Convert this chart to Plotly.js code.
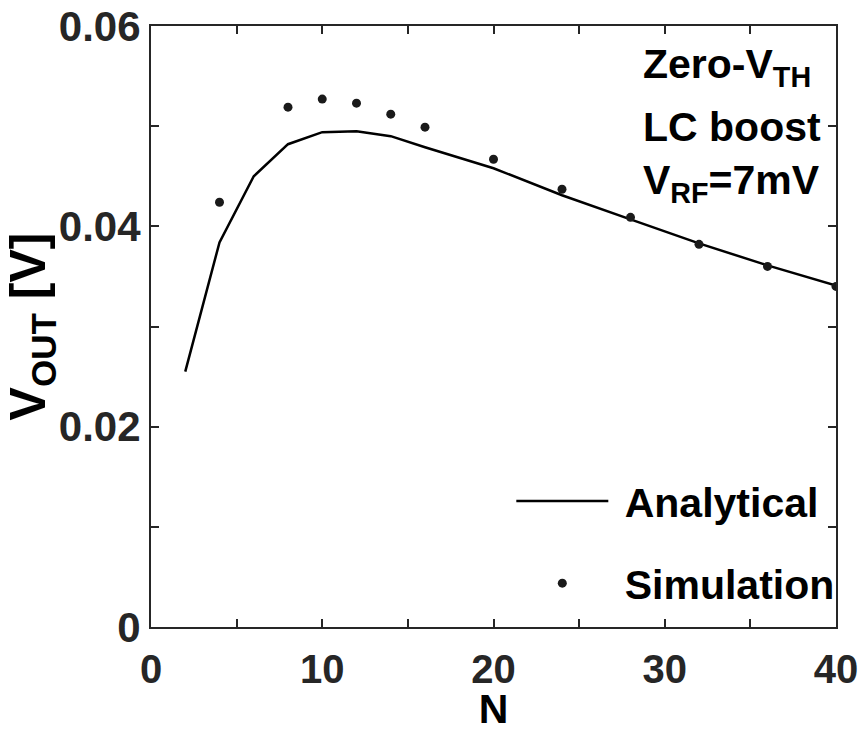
<!DOCTYPE html>
<html>
<head>
<meta charset="utf-8">
<script src="https://cdn.plot.ly/plotly-3.0.1.min.js"></script>
<style>html,body{margin:0;padding:0;background:#fff;}#chart{width:866px;height:732px;}</style>
</head>
<body>
<div id="chart"></div>
<script>
// Analytical curve
const analyticalN = [2, 4, 6, 8, 10, 12, 14, 16, 20, 24, 28, 32, 36, 40];
const analyticalV = [0.0255, 0.0384, 0.0450, 0.0482, 0.0494, 0.0495, 0.0490, 0.0479, 0.0458, 0.0431, 0.0407, 0.0383, 0.0361, 0.0341];
// Simulation points
const simulationN = [4, 8, 10, 12, 14, 16, 20, 24, 28, 32, 36, 40];
const simulationV = [0.0424, 0.0519, 0.0527, 0.0523, 0.0512, 0.0499, 0.0467, 0.0437, 0.0409, 0.0382, 0.0360, 0.0340];
// Axis ticks
const xTickVals = [0, 10, 20, 30, 40];
const xTickText = ['0', '10', '20', '30', '40'];
const yTickVals = [0, 0.02, 0.04, 0.06];
const yTickText = ['0', '0.02', '0.04', '0.06'];
const annotationLines = ['Zero-V<sub>TH</sub>', 'LC boost', 'V<sub>RF</sub>=7mV'];
const seriesNames = ['\u00A0Analytical', '\u00A0Simulation'];

const boldFont = 'Liberation Sans, Arial, sans-serif';
const axisColor = '#262626';

const traces = [
  {
    x: analyticalN, y: analyticalV, type: 'scatter', mode: 'lines',
    name: seriesNames[0], legendgroup: 'a',
    line: {color: '#000', width: 2.5}
  },
  {
    x: simulationN, y: simulationV, type: 'scatter', mode: 'markers',
    name: seriesNames[1], legendgroup: 'b',
    marker: {color: '#1a1a1a', size: 9, symbol: 'circle'}
  }
];

const annY = [0.931, 0.832, 0.738];
const annotations = annotationLines.map((t, i) => ({
  text: t, xref: 'paper', yref: 'paper', x: 0.716, y: annY[i],
  xanchor: 'left', yanchor: 'middle', showarrow: false,
  font: {family: boldFont, size: 41, color: '#000', weight: 'bold'}
}));

const layout = {
  width: 866, height: 732,
  margin: {l: 151, r: 30, t: 26, b: 105},
  paper_bgcolor: '#fff', plot_bgcolor: '#fff',
  showlegend: true,
  legend: {
    x: 0.526, y: 0.265, xanchor: 'left', yanchor: 'top',
    bgcolor: 'rgba(0,0,0,0)', borderwidth: 0,
    font: {family: boldFont, size: 41, color: '#000', weight: 'bold'},
    traceorder: 'grouped', tracegroupgap: 26, itemwidth: 92
  },
  xaxis: {
    range: [0, 40], tickmode: 'array', tickvals: xTickVals, ticktext: xTickText,
    ticks: 'inside', ticklen: 8, tickwidth: 2, tickcolor: axisColor,
    minor: {dtick: 5, ticks: 'inside', ticklen: 8, tickwidth: 2, tickcolor: axisColor, showgrid: false},
    showline: true, linecolor: axisColor, linewidth: 2, mirror: 'ticks',
    showgrid: false, zeroline: false,
    tickfont: {family: boldFont, size: 40, color: axisColor, weight: 'bold'},
    ticklabelstandoff: 6,
    title: {text: 'N', font: {family: boldFont, size: 41, color: '#000', weight: 'bold'}, standoff: 4}
  },
  yaxis: {
    range: [0, 0.06], tickmode: 'array', tickvals: yTickVals, ticktext: yTickText,
    ticks: 'inside', ticklen: 8, tickwidth: 2, tickcolor: axisColor,
    minor: {dtick: 0.01, ticks: 'inside', ticklen: 8, tickwidth: 2, tickcolor: axisColor, showgrid: false},
    showline: true, linecolor: axisColor, linewidth: 2, mirror: 'ticks',
    showgrid: false, zeroline: false,
    tickfont: {family: boldFont, size: 42, color: axisColor, weight: 'bold'},
    title: {text: 'V<sub>OUT</sub> [V]', font: {family: boldFont, size: 50, color: '#000', weight: 'bold'}, standoff: 8}
  },
  annotations: annotations
};

Plotly.newPlot('chart', traces, layout, {displayModeBar: false, staticPlot: true});
</script>
</body>
</html>
